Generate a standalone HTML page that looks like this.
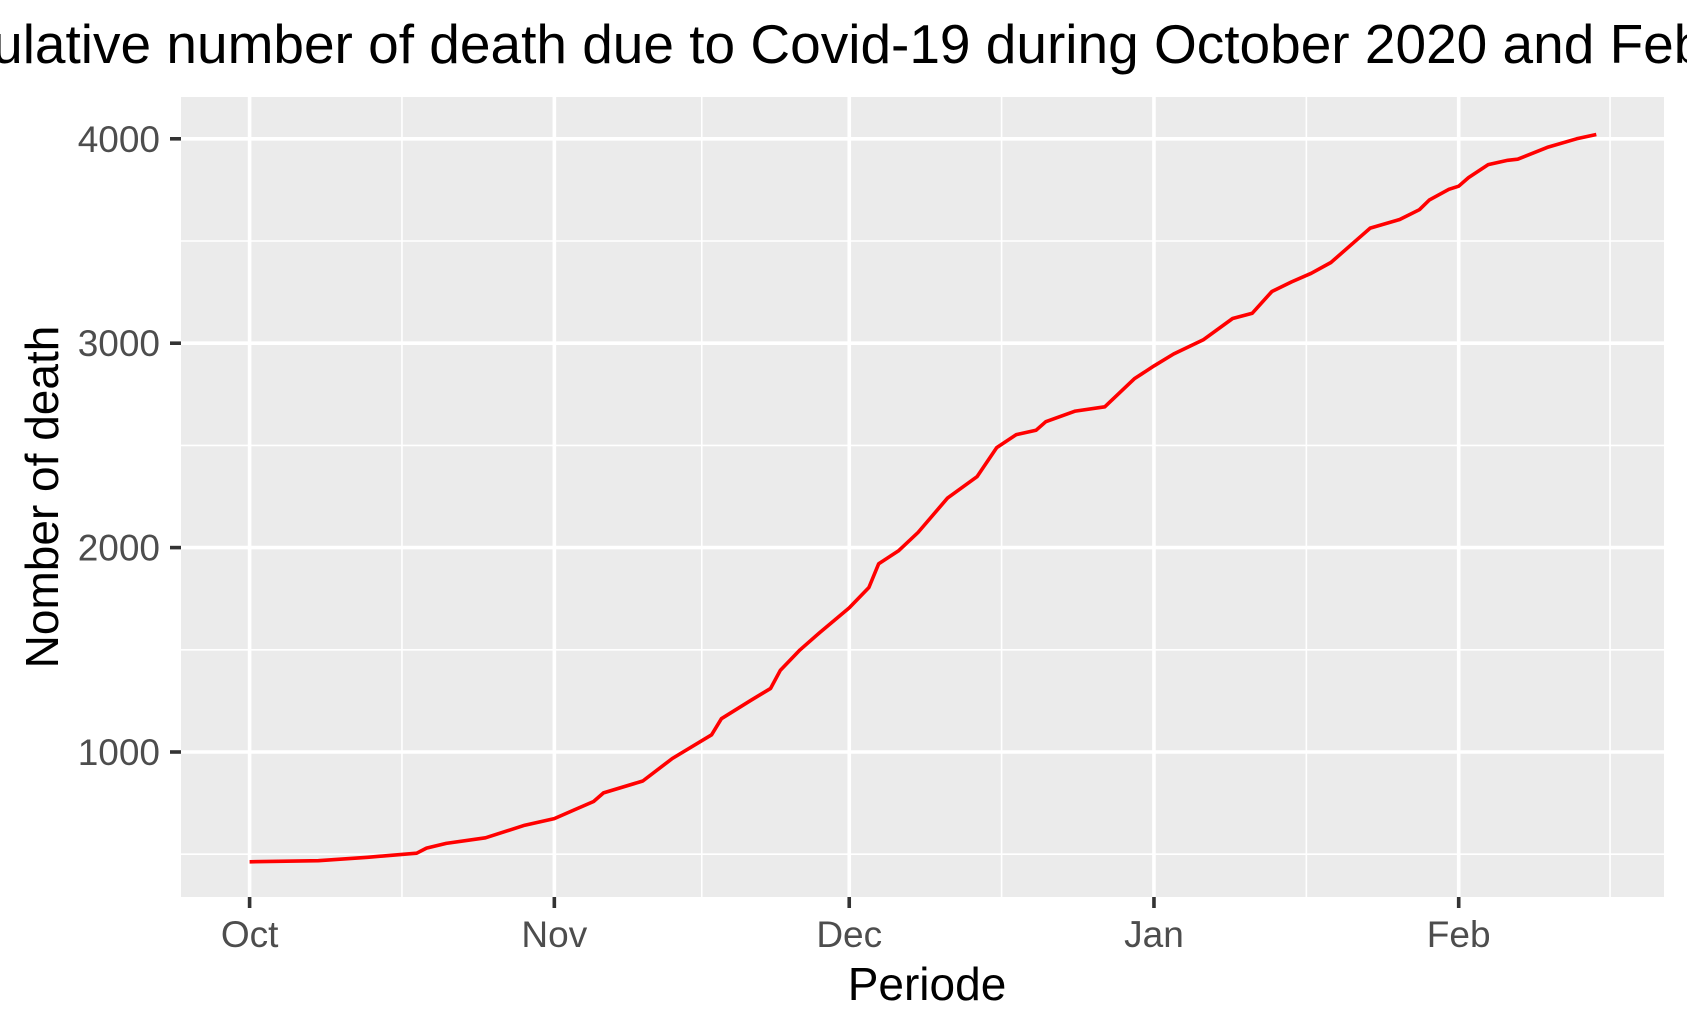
<!DOCTYPE html>
<html><head><meta charset="utf-8"><style>
html,body{margin:0;padding:0;background:#fff;}
svg{display:block;font-family:"Liberation Sans",Arial,sans-serif;}
</style></head><body>
<svg id="chart" width="1687" height="1032" viewBox="0 0 1687 1032" xmlns="http://www.w3.org/2000/svg">
<text x="-124" y="63" font-size="55" fill="#000">Cumulative number of death due to Covid-19 during October 2020 and February 2021</text>
<rect x="181" y="97" width="1483" height="800" fill="#ebebeb"/>
<g id="grid"></g>
<g id="axes"></g>
<path id="line" fill="none" stroke="#ff0000" stroke-width="3.6" stroke-linejoin="round"/>
<text x="927" y="1000" font-size="46" text-anchor="middle" fill="#000">Periode</text>
<text transform="translate(58,497) rotate(-90)" font-size="46" text-anchor="middle" fill="#000">Nomber of death</text>
</svg>
<script>
const days = [0,7,12,17,18,20,24,28,31,33,35,36,40,43,47,48,51,53,54,56,58,61,63,64,66,68,71,74,76,78,80,81,84,87,90,92,94,97,100,102,104,106,108,110,113,114,117,119,120,122,123,124,126,128,129,132,135,137];
const deaths = [463,468,485,505,530,553,580,642,674,716,758,800,858,968,1084,1163,1253,1311,1400,1500,1584,1705,1805,1921,1984,2074,2242,2347,2489,2553,2574,2616,2668,2689,2826,2889,2947,3016,3121,3147,3253,3300,3342,3395,3521,3563,3605,3653,3700,3753,3768,3810,3874,3895,3900,3958,4000,4021];
const yTicks = [1000,2000,3000,4000];
const yMinor = [500,1500,2500,3500];
const xTickDays = [0,31,61,92,123];
const xTickLabels = ["Oct","Nov","Dec","Jan","Feb"];
const xMinorDays = [15.5,46,76.5,107.5,138.4];

const X = d => 249.6 + d*9.83;
const Y = v => 752 - (v-1000)*0.2044;
const NS = "http://www.w3.org/2000/svg";
const grid = document.getElementById('grid'), axes = document.getElementById('axes');
function mk(tag, attrs, parent){const e=document.createElementNS(NS,tag);for(const k in attrs)e.setAttribute(k,attrs[k]);parent.appendChild(e);return e;}

yMinor.forEach(v=>{const l=mk('line',{x1:181,x2:1664,y1:Y(v),y2:Y(v),stroke:'#fff','stroke-width':1.6},grid);

});
xMinorDays.forEach(d=>{const l=mk('line',{x1:X(d),x2:X(d),y1:97,y2:897,stroke:'#fff','stroke-width':1.6},grid);

});
yTicks.forEach(v=>{const l=mk('line',{x1:181,x2:1664,y1:Y(v),y2:Y(v),stroke:'#fff','stroke-width':3.6},grid);


const t=mk('line',{x1:170,x2:181,y1:Y(v),y2:Y(v),stroke:'#333','stroke-width':3.6},axes);


const tx=mk('text',{x:160,y:Y(v)+13,'font-size':37,'text-anchor':'end',fill:'#4d4d4d'},axes);
tx.textContent=v;

});
xTickDays.forEach((d,i)=>{const l=mk('line',{x1:X(d),x2:X(d),y1:97,y2:897,stroke:'#fff','stroke-width':3.6},grid);


const t=mk('line',{x1:X(d),x2:X(d),y1:897,y2:908,stroke:'#333','stroke-width':3.6},axes);


const tx=mk('text',{x:X(d),y:947,'font-size':37,'text-anchor':'middle',fill:'#4d4d4d'},axes);
tx.textContent=xTickLabels[i];

});
document.getElementById('line').setAttribute('d', days.map((d,i)=>(i?'L':'M')+X(d).toFixed(1)+','+Y(deaths[i]).toFixed(1)).join(' '));
</script>
</body></html>
